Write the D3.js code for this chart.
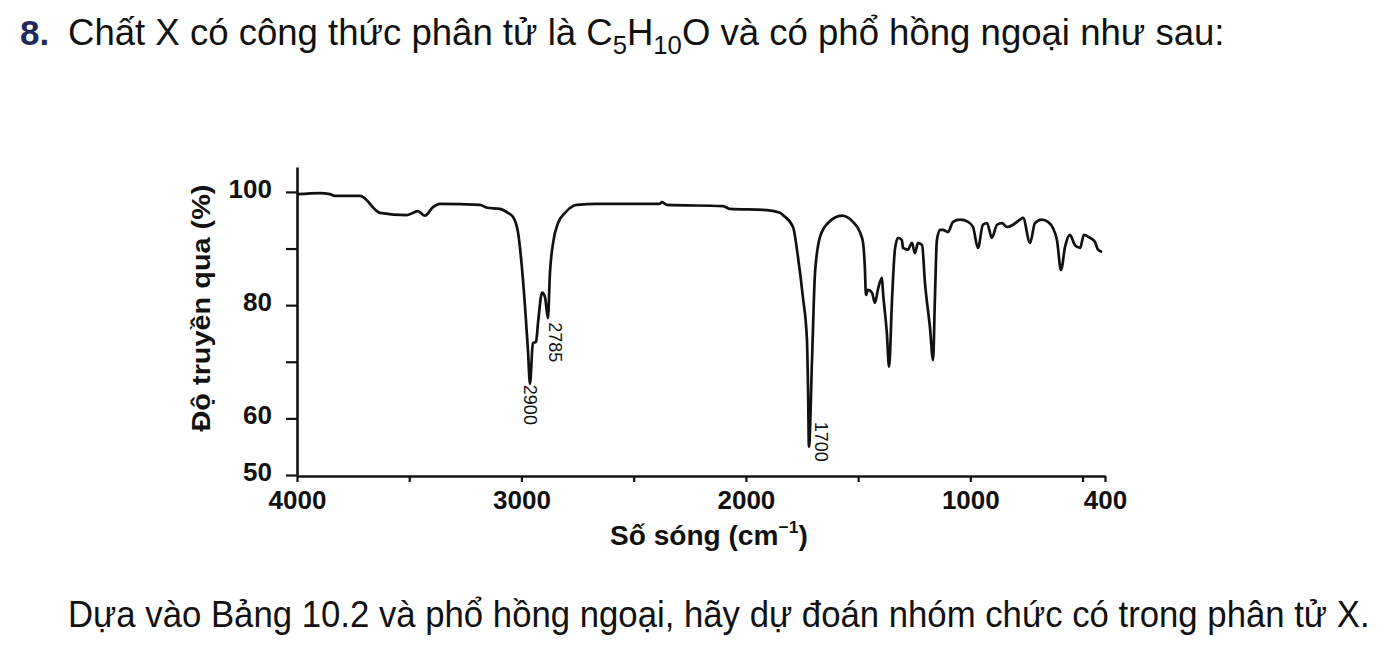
<!DOCTYPE html>
<html><head><meta charset="utf-8">
<script src="https://cdn.jsdelivr.net/npm/d3@7"></script>
<style>
html,body{margin:0;padding:0;background:#fff;}
svg{display:block;}
text{font-family:"Liberation Sans",Arial,sans-serif;}
</style></head>
<body>
<svg id="c" width="1395" height="647"></svg>
<script>
// ---- data ----
const wavenumber = [4000,3898,3853,3831,3719,3630,3510,3461,3430,3394,3363,3185,3153,3096,3060,3038,3015,2998,2984,2971,2962,2949,2935,2926,2908,2895,2882,2873,2859,2837,2806,2770,2752,2663,2383,2374,2352,2102,2071,1906,1848,1835,1790,1768,1746,1728,1723,1719,1705,1692,1670,1634,1572,1523,1492,1478,1470,1465,1456,1438,1425,1412,1394,1389,1372,1362,1349,1336,1322,1305,1300,1278,1260,1247,1233,1215,1202,1180,1166,1158,1149,1135,1122,1100,1077,1046,1010,988,966,944,926,904,881,859,837,810,779,765,734,712,681,654,632,614,596,578,556,534,511,494,467,445,431,413];
const transmittance = [99.6,99.8,99.6,99.3,99.3,96.3,95.9,96.6,95.8,97.3,97.9,97.7,97.2,97.0,96.3,95.6,92.8,86.7,79.7,72.1,66.1,73.3,73.5,76.9,82.2,81.4,77.7,85.7,91.0,94.5,96.3,97.5,97.7,97.9,97.9,98.2,97.7,97.5,97.0,96.8,96.3,95.9,93.8,88.5,81.4,73.9,65.0,55.0,70.8,85.7,92.0,94.5,95.8,94.7,92.9,91.0,86.7,81.8,82.7,82.2,80.4,82.7,84.8,82.2,75.1,69.1,80.9,89.8,91.9,91.5,90.1,89.8,91.0,89.2,91.0,90.6,83.9,76.1,70.3,80.9,91.5,93.3,93.3,92.9,94.7,95.1,94.7,93.8,90.1,94.2,94.5,91.9,94.2,94.5,93.8,94.2,95.1,95.4,91.0,94.5,95.1,94.7,93.6,91.5,86.2,90.3,92.4,90.6,90.1,92.4,91.9,91.2,89.8,89.4];
const peakLabels = ["2900","2785","1700"];
const peakWavenumbers = [2962,2882,1719];
const peakTransmittance = [66.1,77.7,55.0];
const xTickValues = [4000,3500,3000,2500,2000,1500,1000,500,400];
const xTickLabels = ["4000","","3000","","2000","","1000","","400"];
const yTickValues = [50,60,70,80,90,100];
const yTickLabels = ["50","60","","80","","100"];

const svg = d3.select("#c");
const x = d3.scaleLinear().domain([4000,400]).range([297,1105]);
const y = d3.scaleLinear().domain([50,104.4]).range([475,167]);

function fitX(sel, x0, x1){
  const bb = sel.node().getBBox();
  const s = (x1-x0)/bb.width;
  sel.attr("transform", `translate(${x0 - bb.x*s},0) scale(${s},1)`);
}

// title
svg.append("text").attr("x",20).attr("y",45).attr("font-size",35).attr("font-weight","bold")
  .attr("fill","#1e2a5e").text("8.");
const title = svg.append("text").attr("x",0).attr("y",45).attr("font-size",37).attr("fill","#111");
title.append("tspan").text("Chất X có công thức phân tử là C");
title.append("tspan").attr("font-size",26).attr("dy",9).text("5");
title.append("tspan").attr("dy",-9).text("H");
title.append("tspan").attr("font-size",26).attr("dy",9).text("10");
title.append("tspan").attr("dy",-9).text("O và có phổ hồng ngoại như sau:");
fitX(title, 68, 1225);

// bottom text
const foot = svg.append("text").attr("x",0).attr("y",627).attr("font-size",37).attr("fill","#111")
  .text("Dựa vào Bảng 10.2 và phổ hồng ngoại, hãy dự đoán nhóm chức có trong phân tử X.");
fitX(foot, 68, 1370);

// axes
const gx = svg.append("g").attr("transform","translate(0,476)")
  .call(d3.axisBottom(x).tickValues(xTickValues).tickSize(6).tickSizeOuter(0).tickPadding(9)
    .tickFormat((d,i)=>xTickLabels[i]));
const gy = svg.append("g").attr("transform","translate(297,0)")
  .call(d3.axisLeft(y).tickValues(yTickValues).tickSize(11).tickSizeOuter(0).tickPadding(14)
    .tickFormat((d,i)=>yTickLabels[i]));
[gx,gy].forEach(g=>{
  g.select(".domain").attr("stroke","#111").attr("stroke-width",2.6);
  g.selectAll(".tick line").attr("stroke","#111").attr("stroke-width",2.2);
  g.selectAll(".tick text").attr("font-family","Liberation Sans, Arial, sans-serif")
    .attr("font-size",26).attr("font-weight","bold").attr("fill","#111");
});
gy.selectAll(".tick text").attr("dy","0.2em");

// axis titles
const xl = svg.append("text").attr("x",0).attr("y",545).attr("font-size",27).attr("font-weight","bold").attr("fill","#111");
xl.append("tspan").text("Số sóng (cm");
xl.append("tspan").attr("font-size",17).attr("dy",-12).text("−1");
xl.append("tspan").attr("dy",12).text(")");
fitX(xl, 610, 808);

const yl = svg.append("text").attr("x",0).attr("y",0).attr("font-size",25).attr("font-weight","bold")
  .attr("fill","#111").attr("text-anchor","middle").text("Độ truyền qua (%)");
{
  const bb = yl.node().getBBox();
  const s = 247/bb.width;
  yl.attr("transform",`translate(210,308) rotate(-90) scale(${s},1)`);
}

// spectrum line
const pts = wavenumber.map((w,i)=>[w,transmittance[i]]);
svg.append("path").datum(pts)
  .attr("fill","none").attr("stroke","#111").attr("stroke-width",2.7).attr("stroke-linejoin","round")
  .attr("d", d3.line().x(d=>x(d[0])).y(d=>y(d[1])).curve(d3.curveMonotoneX));

// peak annotations
const dxs = [-6, 1, 6], dys = [1, 4, -25];
peakLabels.forEach((lab,i)=>{
  const px = x(peakWavenumbers[i]) + dxs[i];
  const py = y(peakTransmittance[i]) + dys[i];
  svg.append("text").attr("font-size",18).attr("fill","#111")
    .attr("transform",`translate(${px},${py}) rotate(90)`).text(lab);
});
</script>
</body></html>
